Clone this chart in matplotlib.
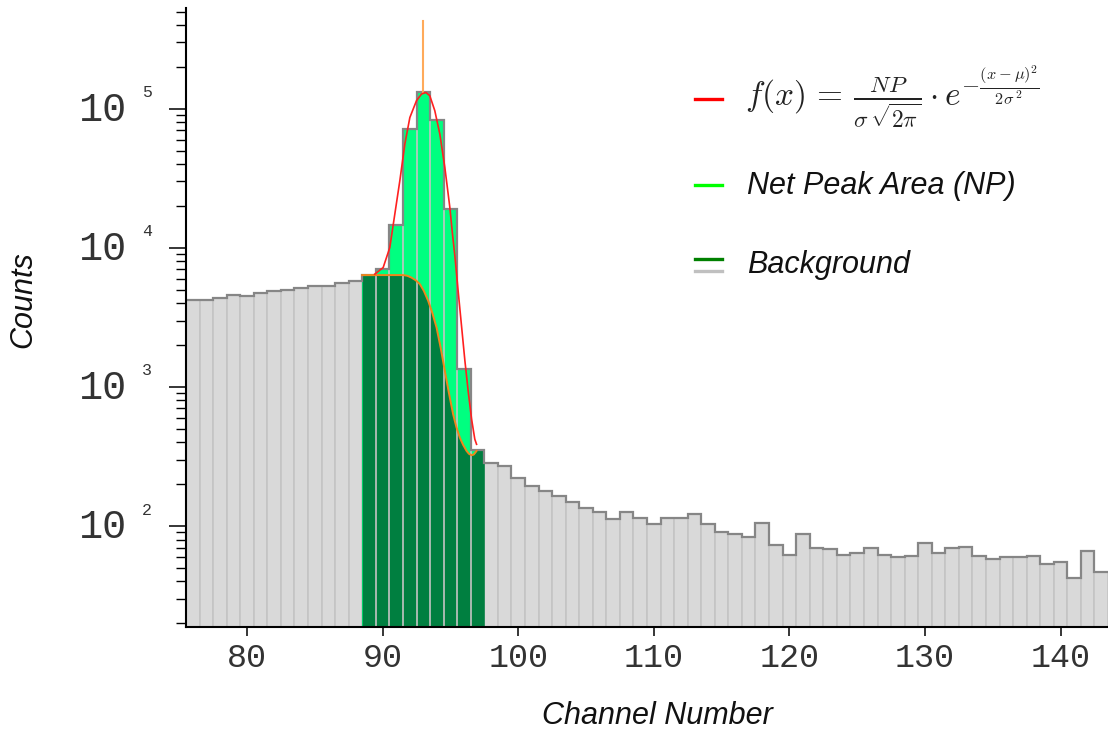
import numpy as np
import matplotlib
matplotlib.use("Agg")
import matplotlib.pyplot as plt
from matplotlib.lines import Line2D
from matplotlib.ticker import LogLocator, NullFormatter, FixedLocator

plt.rcParams["mathtext.fontset"] = "cm"

# ---- spectrum: counts per channel -------------------------------------
channels = list(range(76, 144))
counts = [
    4230, 4230, 4390, 4610, 4490, 4720, 4910, 5010, 5130, 5360,   # 76-85
    5360, 5570, 5820, 6370, 7100, 14600, 71400, 131900, 83400, 19100,  # 86-95
    1355, 352, 282, 272, 223, 195, 179, 164, 149, 135,            # 96-105
    126, 113, 126, 115, 103, 114, 114, 123, 103, 91,              # 106-115
    87, 83, 106, 73, 62, 87, 70, 68, 62, 64,                      # 116-125
    70, 62, 60, 61, 76, 64, 70, 71, 61, 58,                       # 126-135
    60, 60, 61, 53, 55, 42, 66, 47,                               # 136-143
]

# channels belonging to the peak region
peak_first = 89
peak_last = 97

# smooth step background under the peak
bg_x = [88.49, 91.51, 91.82, 92.13, 92.45, 92.75, 93.04, 93.36, 93.67, 93.98,
        94.30, 94.59, 94.89, 95.20, 95.44, 95.70, 95.94, 96.19, 96.36, 96.56,
        96.73, 96.93]
bg_y = [6370, 6370, 6300, 6110, 5840, 5480, 4910, 4160, 3400, 2670,
        1874, 1303, 906, 637, 515, 431, 383, 347, 331, 323,
        327, 347]

# fitted gaussian on top of the background
fit_x = [89.42, 90.04, 90.53, 90.90, 91.27, 91.64, 92.01, 92.50, 92.87, 93.19,
         93.48, 93.85, 94.22, 94.59, 94.96, 95.13, 95.33, 95.57, 95.82, 96.07,
         96.31, 96.56, 96.80, 96.93]
fit_y = [6470, 7210, 10040, 17460, 30340, 55720, 86500, 114300, 127600, 130900,
         124100, 96800, 65800, 37840, 19500, 13240, 8750, 4910, 2750, 1540,
         936, 589, 421, 387]

centroid = 93.0
centroid_top = 4.3e5

x_ticks = [80, 90, 100, 110, 120, 130, 140]
y_decades = [2, 3, 4, 5]

# ---- colours ------------------------------------------------------------
GRAY_FILL = "#d9d9d9"
GRAY_SEP = "#c4c4c4"
OUTLINE = "#868686"
NET_GREEN = "#00ff80"
BG_GREEN = "#007f40"
FIT_RED = "#ff2020"
BG_ORANGE = "#f0861a"
CENTROID = "#ffaa5a"
TICK_TEXT = "#333333"

W, H = 1108, 733
fig = plt.figure(figsize=(W / 100, H / 100), dpi=100)
ax = fig.add_axes([186 / W, (H - 627) / H, (W - 186) / W, (627 - 8) / H])

ch = np.array(channels, dtype=float)
cnt = np.array(counts, dtype=float)
edges = np.append(ch - 0.5, ch[-1] + 0.5)
base = 1.0
in_peak = (ch >= peak_first) & (ch <= peak_last)

# continuum bars
ax.bar(ch[~in_peak], cnt[~in_peak] - base, bottom=base, width=1.0,
       color=GRAY_FILL, edgecolor=GRAY_SEP, linewidth=1.2, zorder=1)

# peak bars: net area in light green, background below the step in dark green
ax.bar(ch[in_peak], cnt[in_peak] - base, bottom=base, width=1.0,
       color=NET_GREEN, linewidth=0, zorder=1)
last_peak = cnt[ch == peak_last][0]
fill_x = np.array(bg_x + [bg_x[-1], peak_last + 0.5])
fill_y = np.array(bg_y + [last_peak, last_peak])
ax.fill_between(fill_x, base, fill_y, color=BG_GREEN, linewidth=0, zorder=2)

# bin separators inside the peak region
pk_c = cnt[in_peak]
sep_x = ch[in_peak][:-1] + 0.5
sep_top = np.minimum(pk_c[:-1], pk_c[1:])
ax.vlines(sep_x, base, sep_top, colors=GRAY_SEP, linewidth=1.2, zorder=3)

# histogram outline
ax.stairs(cnt, edges, baseline=None, color=OUTLINE, linewidth=1.6, zorder=4)

# fitted curves and centroid marker
ax.plot(bg_x, bg_y, color=BG_ORANGE, linewidth=1.4, zorder=5)
ax.plot(fit_x, fit_y, color=FIT_RED, linewidth=1.2, zorder=6)
ax.plot([centroid, centroid], [max(fit_y), centroid_top], color=CENTROID,
        linewidth=1.5, zorder=5)

# ---- axes ---------------------------------------------------------------
ax.set_yscale("log")
ax.set_xlim(75.5, 143.5)
ax.set_ylim(18.8, 5.3e5)

for s in ("top", "right"):
    ax.spines[s].set_visible(False)
for s in ("left", "bottom"):
    ax.spines[s].set_linewidth(1.5)
    ax.spines[s].set_zorder(7)

ax.set_xticks(x_ticks)
ax.set_xticklabels([str(t) for t in x_ticks], family="Liberation Mono",
                   fontsize=24, color=TICK_TEXT)
ax.tick_params(axis="x", which="major", length=6.5, width=1.1, pad=5,
               direction="out")
ax.tick_params(axis="x", which="minor", length=0)

ax.yaxis.set_major_locator(FixedLocator([10.0 ** d for d in y_decades]))
ax.yaxis.set_minor_locator(LogLocator(base=10, subs=np.arange(2, 10)))
ax.yaxis.set_major_formatter(NullFormatter())
ax.yaxis.set_minor_formatter(NullFormatter())
ax.tick_params(axis="y", which="major", length=12.5, width=1.1, direction="out")
ax.tick_params(axis="y", which="minor", length=7, width=1.0, direction="out")

for d in y_decades:
    ax.annotate("10", xy=(0, 10.0 ** d), xycoords=("axes fraction", "data"),
                xytext=(-60, -1), textcoords="offset pixels", ha="right",
                va="center", family="Liberation Mono", fontsize=29,
                color=TICK_TEXT)
    ax.annotate(str(d), xy=(0, 10.0 ** d), xycoords=("axes fraction", "data"),
                xytext=(-44, 16), textcoords="offset pixels", ha="left",
                va="center", family="Liberation Mono", fontsize=12,
                color=TICK_TEXT)

label_font = dict(family="Liberation Sans", style="italic", fontsize=22,
                  color="#111111")
fig.text(657 / W, 1 - 716 / H, "Channel Number", ha="center", va="center",
         **label_font)
fig.text(23 / W, 1 - 300 / H, "Counts", ha="center", va="center",
         rotation=90, **label_font)

# ---- legend -------------------------------------------------------------
def fx(px):
    return px / W


def fy(py):
    return 1 - py / H


fig.add_artist(Line2D([fx(695), fx(722)], [fy(99), fy(99)], color="#ff0000",
                      linewidth=2.4))
fig.text(fx(745), fy(97),
         r"$f(x)\,=\,\frac{NP}{\sigma\,\sqrt{2\pi}}\cdot e^{-\frac{(x-\mu)^2}{2\sigma^{\,2}}}$",
         ha="left", va="center", fontsize=24, color="#222222")

fig.add_artist(Line2D([fx(695), fx(722)], [fy(185), fy(185)], color="#00ff00",
                      linewidth=2.4))
fig.text(fx(747), fy(186), "Net Peak Area (NP)", ha="left", va="center",
         **label_font)

fig.add_artist(Line2D([fx(695), fx(722)], [fy(259), fy(259)], color="#008000",
                      linewidth=2.4))
fig.add_artist(Line2D([fx(695), fx(722)], [fy(271), fy(271)], color="#c0c0c0",
                      linewidth=2.4))
fig.text(fx(747), fy(265), "Background", ha="left", va="center", **label_font)

fig.savefig("out.png", dpi=100)
